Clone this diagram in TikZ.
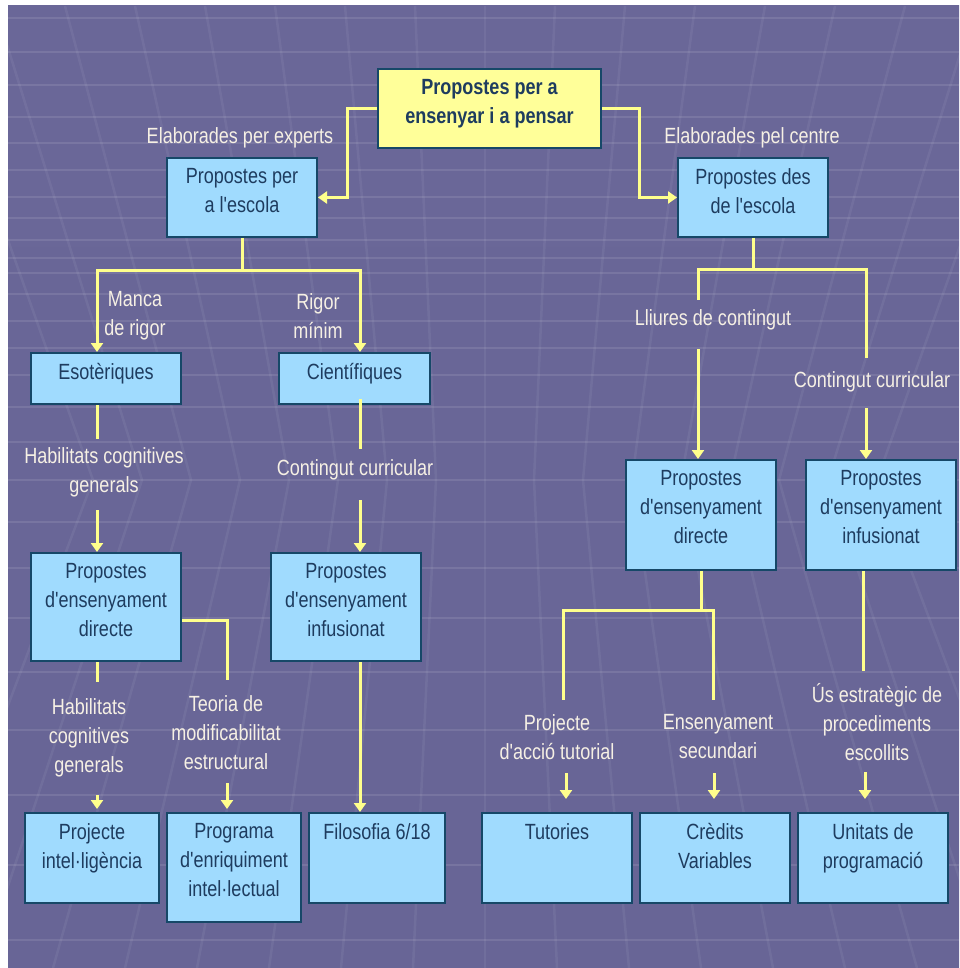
\documentclass[tikz,border=0pt]{standalone}
\usepackage{fontspec}
\setmainfont{Liberation Sans}[FakeStretch=0.82, Ligatures=TeXOff]
\usetikzlibrary{arrows.meta,fit,calc}

\definecolor{bgtop}{RGB}{106,103,152}
\definecolor{bgmid}{RGB}{74,71,110}
\definecolor{bgbot}{RGB}{104,101,150}
\definecolor{boxfill}{RGB}{160,219,254}
\definecolor{rootfill}{RGB}{255,255,153}
\definecolor{boxline}{RGB}{22,72,104}
\definecolor{boxtext}{RGB}{30,60,95}
\definecolor{labtext}{RGB}{246,240,228}
\definecolor{connc}{RGB}{255,255,140}

\newcommand\mapfont{\fontsize{22}{29}\selectfont}

\begin{document}
\begin{tikzpicture}[x=1pt,y=-1pt,
  every node/.style={font=\mapfont},
  cbox/.style={draw=boxline, line width=2pt, fill=boxfill, inner sep=0pt},
  ctext/.style={text=boxtext, align=center, inner sep=0pt, anchor=north},
  lab/.style={text=labtext, align=center, inner sep=0pt},
  conn/.style={draw=connc, line width=3pt},
  tip/.style={-{Triangle[width=12pt,length=9pt]}},
  gridh/.style={draw=white, opacity=0.10, line width=2.5pt},
  gridv/.style={draw=white, opacity=0.06, line width=2.5pt}]

% page and slide background
\fill[white] (0,0) rectangle (959,968);
\shade[top color=bgtop, middle color=bgmid, bottom color=bgbot] (8,6) rectangle (959,968);
\begin{scope}
  \clip (8,6) rectangle (959,968);
  \foreach \y in {18,52,85,117,143,170,197,218,240,258,273,294,321,348,375,407,442,480,522,568,618,672,730,795,865,940}
    \draw[gridh] (8,\y) -- (959,\y);
  \foreach \k in {-8,...,8}
    \draw[gridv] (485+70*\k,6) -- (485+49*\k,480) -- (485+72*\k,968);
\end{scope}

% boxes
\node[cbox, fill=rootfill, fit={(378,69) (601,148)}] (root) {};
\node[cbox, fit={(167,158) (317,237)}] (pe) {};
\node[cbox, fit={(678,158) (828,237)}] (pd) {};
\node[cbox, fit={(31,353) (181,404)}] (eso) {};
\node[cbox, fit={(279,353) (430,404)}] (cie) {};
\node[cbox, fit={(626,460) (776,570)}] (rd) {};
\node[cbox, fit={(806,460) (956,570)}] (ri) {};
\node[cbox, fit={(31,553) (181,661)}] (ld) {};
\node[cbox, fit={(271,553) (421,661)}] (mi) {};
\node[cbox, fit={(25,813) (159,903)}] (pi) {};
\node[cbox, fit={(167,813) (301,922)}] (pg) {};
\node[cbox, fit={(309,813) (445,903)}] (fi) {};
\node[cbox, fit={(482,813) (632,903)}] (tut) {};
\node[cbox, fit={(640,813) (790,903)}] (cre) {};
\node[cbox, fit={(798,813) (948,903)}] (uni) {};

% box texts
\node[ctext, font=\mapfont\bfseries] (root-t) at ([yshift=-11pt]root.north) {Propostes per a\\ensenyar i a pensar};
\node[ctext] (pe-t) at ([yshift=-11pt]pe.north) {Propostes per\\a l'escola};
\node[ctext] (pd-t) at ([yshift=-11pt]pd.north) {Propostes des\\de l'escola};
\node[ctext] (eso-t) at ([yshift=-11pt]eso.north) {Esotèriques};
\node[ctext] (cie-t) at ([yshift=-11pt]cie.north) {Científiques};
\node[ctext] (rd-t) at ([yshift=-11pt]rd.north) {Propostes\\d'ensenyament\\directe};
\node[ctext] (ri-t) at ([yshift=-11pt]ri.north) {Propostes\\d'ensenyament\\infusionat};
\node[ctext] (ld-t) at ([yshift=-11pt]ld.north) {Propostes\\d'ensenyament\\directe};
\node[ctext] (mi-t) at ([yshift=-11pt]mi.north) {Propostes\\d'ensenyament\\infusionat};
\node[ctext] (pi-t) at ([yshift=-11pt]pi.north) {Projecte\\intel·ligència};
\node[ctext] (pg-t) at ([yshift=-11pt]pg.north) {Programa\\d'enriquiment\\intel·lectual};
\node[ctext] (fi-t) at ([yshift=-11pt]fi.north) {Filosofia 6/18};
\node[ctext] (tut-t) at ([yshift=-11pt]tut.north) {Tutories};
\node[ctext] (cre-t) at ([yshift=-11pt]cre.north) {Crèdits\\Variables};
\node[ctext] (uni-t) at ([yshift=-11pt]uni.north) {Unitats de\\programació};

% connector labels
\node[lab] (l-exp) at (240,138) {Elaborades per experts};
\node[lab] (l-cen) at (752,138) {Elaborades pel centre};
\node[lab] (l-manca) at (135,316) {Manca\\de rigor};
\node[lab] (l-rigor) at (318,316) {Rigor\\mínim};
\node[lab] (l-hab1) at (104,472) {Habilitats cognitives\\generals};
\node[lab] (l-cc1) at (355,470) {Contingut curricular};
\node[lab] (l-lli) at (713,320) {Lliures de contingut};
\node[lab] (l-cc2) at (872,382) {Contingut curricular};
\node[lab] (l-hab2) at (89,738) {Habilitats\\cognitives\\generals};
\node[lab] (l-teo) at (226,733) {Teoria de\\modificabilitat\\estructural};
\node[lab] (l-pat) at (557,737) {Projecte\\d'acció tutorial};
\node[lab] (l-ens) at (718,737) {Ensenyament\\secundari};
\node[lab] (l-us) at (877,722) {Ús estratègic de\\procediments\\escollits};

% free ends of the broken connectors
\coordinate (a1) at (97,510);
\coordinate (a2) at (360,500);
\coordinate (e3) at (698,300);
\coordinate (a3) at (698,349);
\coordinate (e4) at (866,358);
\coordinate (a4) at (866,408);
\coordinate (a5) at (97,795);
\coordinate (e6) at (227,680);
\coordinate (a6) at (227,783);
\coordinate (e7) at (563,700);
\coordinate (e8) at (713,700);
\coordinate (a7) at (566,773);
\coordinate (a8) at (714,773);
\coordinate (a9) at (865,772);

% top level
\draw[conn,tip] (root.west) -- ++(-30,0) |- (pe.east);
\draw[conn,tip] (root.east) -- ++(37,0) |- (pd.west);

% proposals made by experts
\draw[conn] (pe.south) -- ++(0,32) coordinate (pej);
\draw[conn,tip] (pej) -| ([xshift=-9pt]eso.north);
\draw[conn,tip] (pej) -| ([xshift=5.5pt]cie.north);
\draw[conn] ([xshift=-9pt]eso.south) -- ++(0,34);
\draw[conn,tip] (a1) -- (a1 |- ld.north);
\draw[conn] ([xshift=5.5pt,yshift=6pt]cie.south) -- ++(0,50);
\draw[conn,tip] (a2) -- (a2 |- mi.north);
\draw[conn] ([xshift=-9pt]ld.south) -- ++(0,20);
\draw[conn,tip,shorten >=3pt] (a5) -- (a5 |- pi.north);
\draw[conn] ([yshift=-13pt]ld.east) -| (e6);
\draw[conn,tip,shorten >=3pt] (a6) -- (a6 |- pg.north);
\draw[conn,tip] ([xshift=14pt]mi.south) -- ([xshift=14pt]mi.south |- fi.north);

% proposals made by the school
\draw[conn] (pd.south) -- ++(0,31) coordinate (pdj);
\draw[conn] (pdj) -| (e3);
\draw[conn,tip] (a3) -- (a3 |- rd.north);
\draw[conn] (pdj) -| (e4);
\draw[conn,tip] (a4) -- (a4 |- ri.north);
\draw[conn] (rd.south) -- ++(0,39) coordinate (rdj);
\draw[conn] (rdj) -| (e7);
\draw[conn] (rdj) -| (e8);
\draw[conn,tip,shorten >=13pt] (a7) -- (a7 |- tut.north);
\draw[conn,tip,shorten >=13pt] (a8) -- (a8 |- cre.north);
\draw[conn] ([xshift=-18pt]ri.south) -- ++(0,100);
\draw[conn,tip,shorten >=13pt] (a9) -- (a9 |- uni.north);
\end{tikzpicture}
\end{document}
